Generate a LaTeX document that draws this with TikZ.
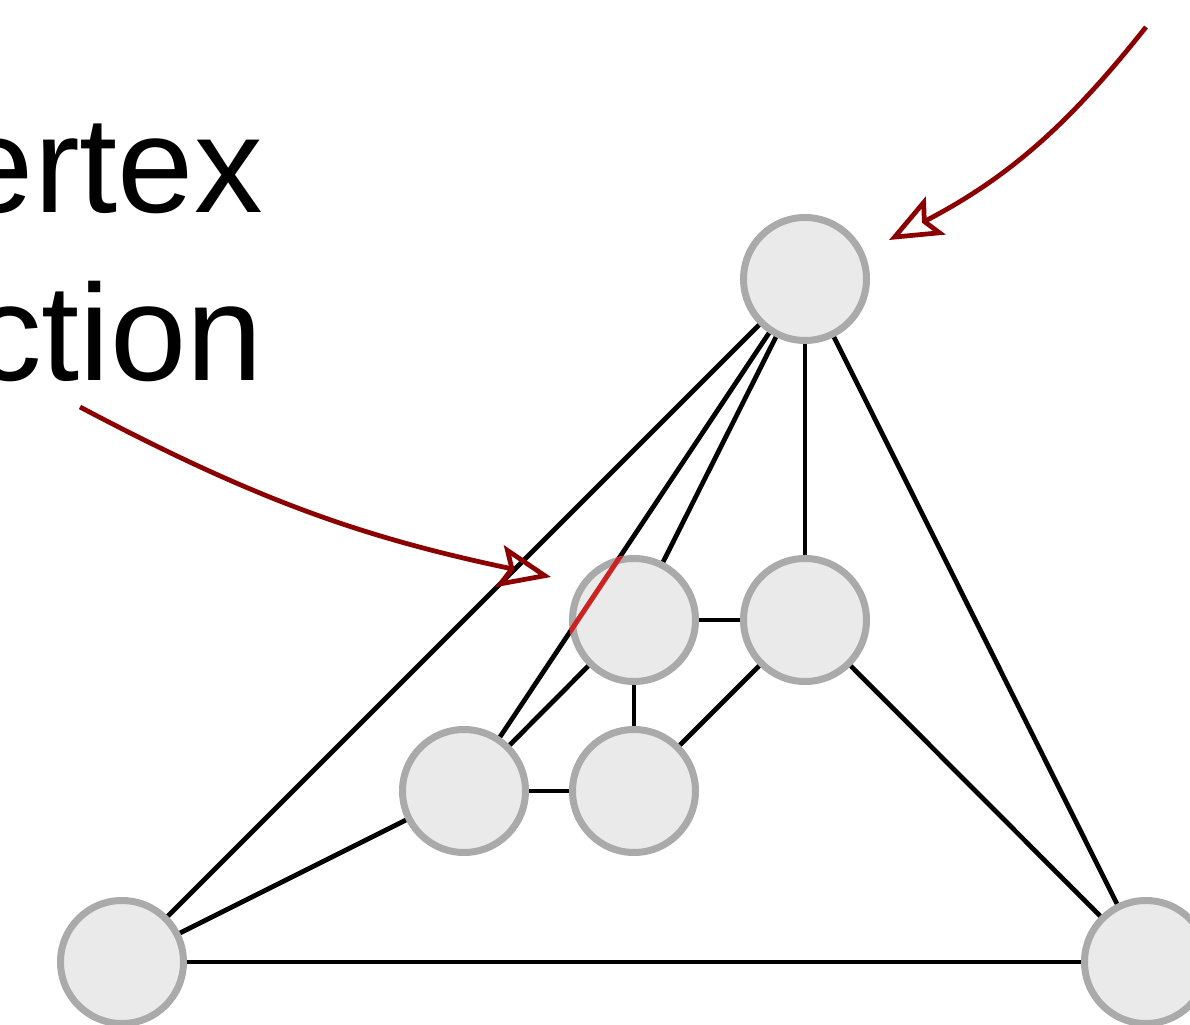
\documentclass[tikz,border=0pt]{standalone}
\usepackage{fontspec}
\setmainfont{Liberation Sans}
\usetikzlibrary{arrows.meta,calc}
\definecolor{nodefill}{HTML}{eaeaea}
\definecolor{nodering}{HTML}{aaaaaa}
\definecolor{hilite}{HTML}{cc2222}
\definecolor{callred}{HTML}{8b0000}

\begin{document}
\begin{tikzpicture}[
    gnode/.style={
        circle,
        inner sep=0pt,
        minimum size=2.46cm,
        fill=nodefill,
        draw=nodering,
        line width=0.14cm,
    },
    edgeline/.style={line width=0.095cm,color=black},
    hiline/.style={line width=0.1cm,color=hilite},
    callarr/.style={
        line width=0.095cm,
        color=callred,
        -{Stealth[open,length=1.05cm,width=0.85cm,inset=0.2cm]},
    },
    bigtext/.style={font=\fontsize{78}{90}\selectfont,inner sep=0pt,anchor=base east},
]

\useasboundingbox (0,0) rectangle (23.8,-20.5);
\clip (0,0) rectangle (23.8,-20.5);

% === Text (cut at the left) ===
\node[bigtext] (lineone) at (5.26,-4.26) {ertex};
\node[bigtext] (linetwo) at (5.26,-7.62) {ction};

% === Vertices ===
\coordinate (ptop) at (16.1,-5.58);
\coordinate (pml) at (12.68,-12.4);
\coordinate (pmr) at (16.1,-12.4);
\coordinate (pll) at (9.28,-15.82);
\coordinate (plr) at (12.68,-15.82);
\coordinate (pbl) at (2.44,-19.24);
\coordinate (pbr) at (22.92,-19.24);

% === Edges (behind the vertices) ===
\draw[edgeline] (ptop) -- (pmr);
\draw[edgeline] (ptop) -- (pbr);
\draw[edgeline] (ptop) -- (pbl);
\draw[edgeline] (ptop) -- (pml);
\draw[edgeline] (ptop) -- (pll);
\draw[edgeline] (pml) -- (pmr);
\draw[edgeline] (pml) -- (plr);
\draw[edgeline] (pml) -- (pll);
\draw[edgeline] (pmr) -- (plr);
\draw[edgeline] (pmr) -- (pbr);
\draw[edgeline] (pll) -- (plr);
\draw[edgeline] (pll) -- (pbl);
\draw[edgeline] (pbl) -- (pbr);

\node[gnode] (top) at (ptop) {};
\node[gnode] (ml) at (pml) {};
\node[gnode] (mr) at (pmr) {};
\node[gnode] (ll) at (pll) {};
\node[gnode] (lr) at (plr) {};
\node[gnode] (bl) at (pbl) {};
\node[gnode] (br) at (pbr) {};

% === Edge crossing a vertex ===
\begin{scope}
    \clip (ml.center) circle[radius=1.3cm];
    \draw[hiline] (top.center) -- (ll.center);
\end{scope}

% === Call-out arrows ===
\coordinate (fromtext) at (1.6,-8.14);
\coordinate (tipmid) at (11.02,-11.54);
\coordinate (fromcorner) at (22.92,-0.54);
\coordinate (tiptop) at (17.78,-4.8);

\draw[callarr] (fromtext) to[bend right=8] (tipmid);
\draw[callarr] (fromcorner) to[bend left=12] (tiptop);

\end{tikzpicture}
\end{document}
